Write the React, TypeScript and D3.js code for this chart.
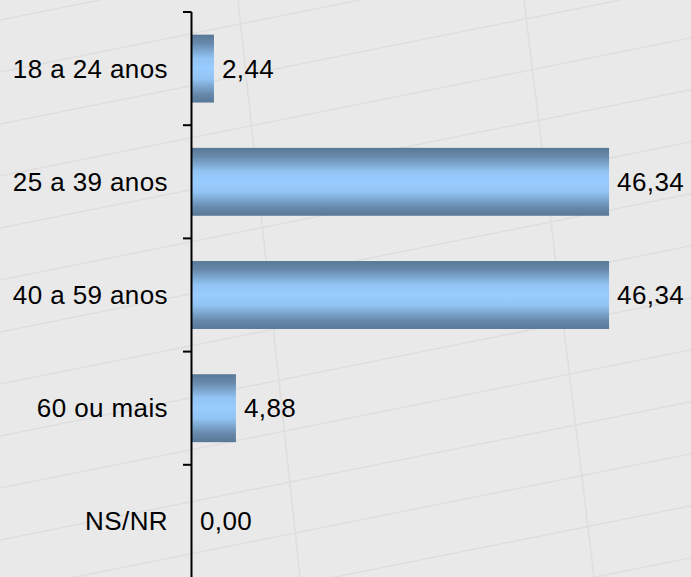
import React from "react";
import * as d3 from "d3";

const categories = ["18 a 24 anos", "25 a 39 anos", "40 a 59 anos", "60 ou mais", "NS/NR"];
const values = [2.44, 46.34, 46.34, 4.88, 0.0];
const valueLabels = ["2,44", "46,34", "46,34", "4,88", "0,00"];

const W = 691;
const H = 577;
const AXIS_X = 192;
const TOP = 12;
const BOTTOM = 578;
const FONT = "'Liberation Sans', Arial, Helvetica, sans-serif";
const FS = 26;
const LS = 0.4;

export default function App() {
  const x = d3.scaleLinear().domain([0, 50]).range([AXIS_X, AXIS_X + 450]);
  const y = d3.scaleBand<string>().domain(categories).range([TOP, BOTTOM]).paddingInner(0.4).paddingOuter(0.2);
  const step = y.step();

  // decorative background grid (perspective-like faint lines)
  const diag: number[] = d3.range(-2, 20);
  const verts = [
    { x1: 238, x2: 300 },
    { x1: 524, x2: 594 },
  ];

  return (
    <svg width={W} height={H} style={{ position: "absolute", left: 0, top: 0 }} xmlns="http://www.w3.org/2000/svg">
      <defs>
        <linearGradient id="barGrad" x1="0" y1="0" x2="0" y2="1">
          <stop offset="0" stopColor="#587896" />
          <stop offset="0.12" stopColor="#6688aa" />
          <stop offset="0.35" stopColor="#92c4f4" />
          <stop offset="0.5" stopColor="#99ccff" />
          <stop offset="0.65" stopColor="#92c4f4" />
          <stop offset="0.88" stopColor="#6688aa" />
          <stop offset="1" stopColor="#587896" />
        </linearGradient>
      </defs>
      <rect x={0} y={0} width={W} height={H} fill="#e9e9e9" />
      <g stroke="#dedede" strokeWidth={1.5} fill="none">
        {diag.map((k) => {
          const y0 = k * 52 + 20;
          return <line key={"d" + k} x1={0} y1={y0} x2={W} y2={y0 - W * 0.2} />;
        })}
        {verts.map((v, i) => (
          <line key={"v" + i} x1={v.x1} y1={0} x2={v.x2} y2={H} />
        ))}
      </g>

      {categories.map((c, i) => {
        const by = y(c) as number;
        const bw = x(values[i]) - x(0);
        return (
          <g key={c}>
            {bw > 0 && (
              <rect x={x(0)} y={by} width={bw} height={y.bandwidth()} fill="url(#barGrad)" />
            )}
            <text
              x={x(values[i]) + 8}
              y={by + y.bandwidth() / 2}
              dominantBaseline="central"
              fontFamily={FONT}
              fontSize={FS}
              letterSpacing={LS}
              fill="#000"
            >
              {valueLabels[i]}
            </text>
            <text
              x={168}
              y={by + y.bandwidth() / 2}
              dominantBaseline="central"
              textAnchor="end"
              fontFamily={FONT}
              fontSize={FS}
              letterSpacing={LS}
              fill="#000"
            >
              {c}
            </text>
          </g>
        );
      })}

      <line x1={AXIS_X - 0.5} y1={TOP} x2={AXIS_X - 0.5} y2={H} stroke="#000" strokeWidth={2} />
      {categories.map((c, i) => (
        <line
          key={"t" + i}
          x1={AXIS_X - 9}
          x2={AXIS_X - 0.5}
          y1={TOP + i * step}
          y2={TOP + i * step}
          stroke="#000"
          strokeWidth={2}
        />
      ))}
    </svg>
  );
}
